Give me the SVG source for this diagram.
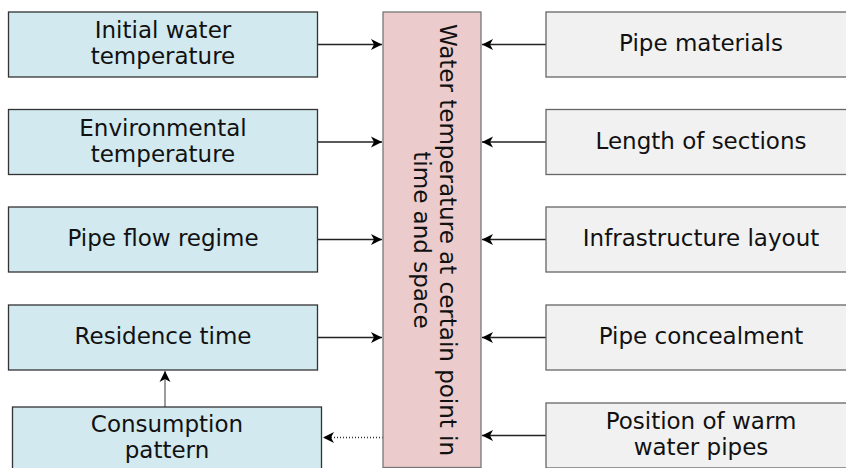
<svg xmlns="http://www.w3.org/2000/svg" width="846" height="468" viewBox="0 0 846 468">
<style>
text{font-family:"DejaVu Sans","Verdana",sans-serif;font-size:23px;fill:#111;text-anchor:middle}
.l{fill:#d1e9ef;stroke:#333;stroke-width:1.3}
.r{fill:#f1f1f1;stroke:#666;stroke-width:1.3}
.c{fill:#ebcbcb;stroke:#777;stroke-width:1.3}
.e{fill:none;stroke:#222;stroke-width:1.3}
.d{fill:none;stroke:#333;stroke-width:1.3;stroke-dasharray:1 2}
</style>
<defs>
<marker id="a" viewBox="0 0 12 12" refX="11" refY="6" markerWidth="12" markerHeight="12" markerUnits="userSpaceOnUse" orient="auto">
<path d="M0,0.5 L11,6 L0,11.5 L3,6 Z" fill="#000"/>
</marker>
</defs>
<g id="connectors">
<path class="e" d="M317,44.5 H382" marker-end="url(#a)"/>
<path class="e" d="M317,142 H382" marker-end="url(#a)"/>
<path class="e" d="M317,239.5 H382" marker-end="url(#a)"/>
<path class="e" d="M317,337.5 H382" marker-end="url(#a)"/>
<path class="e" d="M546,44.5 H482" marker-end="url(#a)"/>
<path class="e" d="M546,142 H482" marker-end="url(#a)"/>
<path class="e" d="M546,239.5 H482" marker-end="url(#a)"/>
<path class="e" d="M546,337.5 H482" marker-end="url(#a)"/>
<path class="e" d="M546,435.5 H482" marker-end="url(#a)"/>
<path class="e" style="stroke:#666" d="M165,407 V371" marker-end="url(#a)"/>
<path class="d" d="M383,437.5 H323" marker-end="url(#a)"/>
</g>
<g id="n-initial"><rect class="l" x="8.5" y="12" width="309" height="65"/><text x="163" y="38">Initial water</text><text x="163" y="64">temperature</text></g>
<g id="n-env"><rect class="l" x="8.5" y="109.5" width="309" height="65"/><text x="163" y="135.5">Environmental</text><text x="163" y="161.5">temperature</text></g>
<g id="n-flow"><rect class="l" x="8.5" y="207" width="309" height="65"/><text x="163" y="246">Pipe flow regime</text></g>
<g id="n-res"><rect class="l" x="8.5" y="305" width="309" height="65"/><text x="163" y="344">Residence time</text></g>
<g id="n-cons"><rect class="l" x="12.5" y="407" width="309" height="65"/><text x="167" y="432">Consumption</text><text x="167" y="458">pattern</text></g>
<g id="n-center"><rect class="c" x="383" y="12" width="98" height="455.5"/>
<g transform="translate(432,240) rotate(90)"><text x="0" y="-8">Water temperature at certain point in</text><text x="0" y="18.5">time and space</text></g></g>
<g id="n-mat"><rect class="r" x="546" y="12" width="310" height="65"/><text x="701" y="51">Pipe materials</text></g>
<g id="n-len"><rect class="r" x="546" y="109.5" width="310" height="65"/><text x="701" y="148.5">Length of sections</text></g>
<g id="n-infra"><rect class="r" x="546" y="207" width="310" height="65"/><text x="701" y="246">Infrastructure layout</text></g>
<g id="n-conceal"><rect class="r" x="546" y="305" width="310" height="65"/><text x="701" y="344">Pipe concealment</text></g>
<g id="n-pos"><rect class="r" x="546" y="403" width="310" height="65"/><text x="701" y="429">Position of warm</text><text x="701" y="455">water pipes</text></g>
</svg>
